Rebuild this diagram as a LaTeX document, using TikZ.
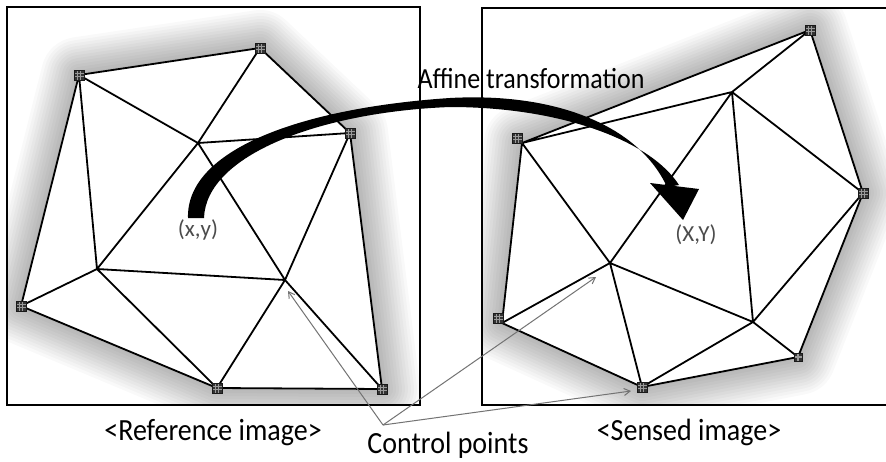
\documentclass[tikz,border=0pt]{standalone}
\usepackage{fontspec}
\usepackage{graphicx}
\setmainfont{Carlito}
\usetikzlibrary{arrows.meta}
\begin{document}
\begin{tikzpicture}[x=1pt,y=-1pt,
  frame/.style={line width=2.2pt},
  edge/.style={line width=1.8pt, line join=round, line cap=round},
  pointer/.style={draw=black!55, line width=1pt, -{Straight Barb[length=6pt,width=7pt]}},
  cpmark/.style={rectangle, minimum size=10pt, inner sep=0pt, fill=black!80, draw=black!90, line width=0.6pt,
    path picture={\draw[black!40, line width=0.6pt]
      ([xshift=3.3pt]path picture bounding box.north west) -- ([xshift=3.3pt]path picture bounding box.south west)
      ([xshift=-3.3pt]path picture bounding box.north east) -- ([xshift=-3.3pt]path picture bounding box.south east)
      ([yshift=-3.3pt]path picture bounding box.north west) -- ([yshift=-3.3pt]path picture bounding box.north east)
      ([yshift=3.3pt]path picture bounding box.south west) -- ([yshift=3.3pt]path picture bounding box.south east);}},
  lbl/.style={font=\fontsize{28}{30}\selectfont, anchor=base, inner sep=0pt},
  coordlbl/.style={text=black!70, font=\fontsize{23}{25}\selectfont, anchor=base, inner sep=0pt},
  halo/.style={line width=#1, black, opacity=0.024, line join=round},
]
\useasboundingbox (0,0) rectangle (886,461);
\fill[white] (0,0) rectangle (886,461);

% left panel vertices
\coordinate (A) at (79,75);
\coordinate (B) at (260,48);
\coordinate (C) at (350,133);
\coordinate (D) at (198,143);
\coordinate (E) at (97,269);
\coordinate (F) at (285,280);
\coordinate (G) at (21,306);
\coordinate (H) at (217,388);
\coordinate (I) at (382,389);
% right panel vertices
\coordinate (P1) at (810,30);
\coordinate (P2) at (522,143);
\coordinate (P3) at (732,92);
\coordinate (P4) at (863,193);
\coordinate (P5) at (610,263);
\coordinate (P6) at (502,323);
\coordinate (P7) at (642,387);
\coordinate (P8) at (753,322);
\coordinate (P9) at (798,357);

% soft halftone-like shading around the meshes
\begin{scope}
  \clip (7,7) rectangle (420,405);
  \foreach \w in {76,70,...,4}
    \draw[halo=\w pt] (A)--(B)--(C)--(I)--(H)--(G)--cycle;
  \fill[white] (A)--(B)--(C)--(I)--(H)--(G)--cycle;
\end{scope}
\begin{scope}
  \clip (482,8) rectangle (886,405);
  \foreach \w in {76,70,...,4}
    \draw[halo=\w pt] (P1)--(P4)--(P9)--(P7)--(P6)--(P2)--cycle;
  \fill[white] (P1)--(P4)--(P9)--(P7)--(P6)--(P2)--cycle;
\end{scope}

% frames
\draw[frame] (7,7) rectangle (420,405);
\draw[frame] (886,8) -- (482,8) -- (482,405) -- (886,405);

% left mesh
\draw[edge] (A)--(B) (A)--(D) (B)--(D) (D)--(E) (B)--(C) (D)--(C) (A)--(E) (A)--(G)
  (D)--(F) (C)--(F) (F)--(H) (C)--(I) (E)--(F) (E)--(G) (E)--(H) (G)--(H) (H)--(I) (F)--(I);
% right mesh
\draw[edge] (P2)--(P1) (P2)--(P3) (P3)--(P1) (P1)--(P4) (P3)--(P4) (P3)--(P5) (P3)--(P8)
  (P2)--(P5) (P2)--(P6) (P6)--(P5) (P6)--(P7) (P5)--(P7) (P5)--(P8) (P7)--(P8) (P8)--(P9)
  (P7)--(P9) (P8)--(P4) (P4)--(P9);

% control point markers
\node[cpmark] (mA) at (A) {};
\node[cpmark] (mB) at (B) {};
\node[cpmark] (mC) at (C) {};
\node[cpmark] (mG) at (G) {};
\node[cpmark] (mH) at (H) {};
\node[cpmark] (mI) at (I) {};
\node[cpmark] (mP1) at (P1) {};
\node[cpmark] (mP2) at (517,138) {};
\node[cpmark] (mP4) at (P4) {};
\node[cpmark] (mP6) at (498,318) {};
\node[cpmark] (mP7) at (P7) {};
\node[cpmark, minimum size=8pt] (mP9) at (P9) {};

% control point pointers
\coordinate (cp) at (383,425);
\coordinate (tL) at (288,291);
\coordinate (tR1) at (596,277);
\coordinate (tR2) at (631,391);
\draw[pointer] (cp) -- (tL);
\draw[pointer] (cp) -- (tR1);
\draw[pointer] (cp) -- (tR2);

% affine transformation arrow
\fill (188,218) .. controls (186,150) and (300,108) .. (450,98)
  .. controls (560,92) and (640,128) .. (667,187) -- (679,185)
  .. controls (650,140) and (560,107) .. (450,107)
  .. controls (320,112) and (206,155) .. (204,218) -- cycle;
\fill (650,183) -- (699,189) -- (683,220) -- cycle;

% texts
\node[lbl, font=\fontsize{26}{28}\selectfont] (aff) at (531,88) {\scalebox{1}[1.12]{Affine transformation}};
\node[lbl] (ref) at (213,440) {\scalebox{1}[1.1]{<Reference image>}};
\node[lbl] (sen) at (689,440) {\scalebox{1}[1.1]{<Sensed image>}};
\node[lbl] (ctl) at (448,453) {\scalebox{1}[1.1]{Control points}};
\node[coordlbl] (xy) at (198,236) {(x,y)};
\node[coordlbl] (XY) at (696,241) {(X,Y)};
\end{tikzpicture}
\end{document}
